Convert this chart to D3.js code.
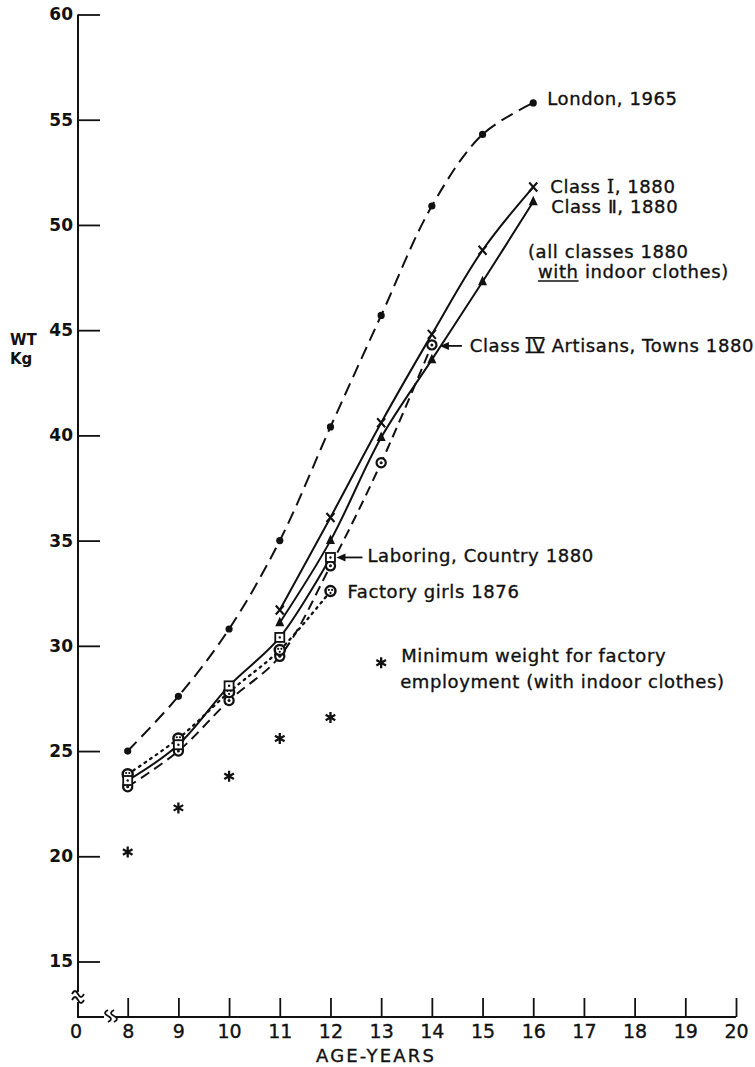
<!DOCTYPE html>
<html>
<head>
<meta charset="utf-8">
<script src="https://cdn.jsdelivr.net/npm/d3@7"></script>
<style>
  body { margin: 0; background: #fff; }
  svg text { font-family: "DejaVu Sans", sans-serif; fill: #111; }
  .heavy { stroke: #111; stroke-width: 0.35px; }
</style>
</head>
<body>
<svg id="chart" width="755" height="1067"></svg>
<script>
// Axis ticks
const ageTicks = [8, 9, 10, 11, 12, 13, 14, 15, 16, 17, 18, 19, 20];
const weightTicks = [15, 20, 25, 30, 35, 40, 45, 50, 55, 60];

// Girls' weight (kg) by age
const londonAges = [8, 9, 10, 11, 12, 13, 14, 15, 16];
const london1965 = [25.0, 27.6, 30.8, 35.0, 40.4, 45.7, 50.9, 54.3, 55.8];

const classAges = [11, 12, 13, 14, 15, 16];
const classI1880 = [31.7, 36.1, 40.6, 44.8, 48.8, 51.8];
const classII1880 = [31.1, 35.0, 39.9, 43.6, 47.3, 51.1];

const classIVAges = [8, 9, 10, 11, 12, 13, 14];
const classIV1880 = [23.3, 25.0, 27.4, 29.5, 33.8, 38.7, 44.3];

const laboringAges = [8, 9, 10, 11, 12];
const laboring1880 = [23.6, 25.3, 28.1, 30.4, 34.2];

const factoryAges = [8, 9, 10, 11, 12];
const factoryGirls1876 = [23.9, 25.6, 27.8, 29.8, 32.6];

const minimumAges = [8, 9, 10, 11, 12, 13];
const minimumWeight = [20.2, 22.3, 23.8, 25.6, 26.6, 29.2];

const svg = d3.select("#chart");
const x = d3.scaleLinear().domain([8, 20]).range([127.7, 736]);
const y = d3.scaleLinear().domain([15, 60]).range([961.5, 14.5]);
const axisX = 78;     // position of the weight axis (age 0)
const axisY = 1017;   // position of the age axis

const ink = "#111";

// ---- Axes -------------------------------------------------------------
const gy = svg.append("g").attr("transform", `translate(${axisX},0)`)
  .call(d3.axisLeft(y).tickValues(weightTicks).tickSize(-22).tickPadding(5));
gy.select(".domain").remove();
gy.selectAll(".tick line").attr("stroke", ink).attr("stroke-width", 1.8);
gy.selectAll(".tick text").attr("font-size", 17).attr("font-weight", "bold")
  .attr("fill", ink).style("font-family", "\"DejaVu Sans\", sans-serif");

const gx = svg.append("g").attr("transform", `translate(0,${axisY})`)
  .call(d3.axisBottom(x).tickValues(ageTicks).tickSize(-19).tickPadding(8));
gx.select(".domain").remove();
gx.selectAll(".tick line").attr("stroke", ink).attr("stroke-width", 1.8);
gx.selectAll(".tick text").attr("font-size", 19).attr("fill", ink).attr("class", "heavy")
  .style("font-family", "\"DejaVu Sans\", sans-serif");

// origin label
svg.append("text").attr("class", "heavy").attr("x", axisX - 2).attr("y", axisY + 21)
  .attr("text-anchor", "middle").attr("font-size", 19).text("0");

// axis lines with scale breaks
const axisPath = [
  `M${axisX},${y(60)}V992`,
  `M${axisX},1002V${axisY}H104`,
  `M116,${axisY}H736`
].join("");
svg.append("path").attr("d", axisPath).attr("fill", "none")
  .attr("stroke", ink).attr("stroke-width", 2);

const breaks = [
  `M${axisX - 6},994c2,-4 4,-4 6,0s4,4 6,0`,
  `M${axisX - 6},1000c2,-4 4,-4 6,0s4,4 6,0`,
  `M108,1010c-4,2 -4,4 0,6s4,4 0,6`,
  `M114,1010c-4,2 -4,4 0,6s4,4 0,6`
];
svg.append("path").attr("d", breaks.join("")).attr("fill", "none")
  .attr("stroke", ink).attr("stroke-width", 1.8);

// axis titles
svg.append("text").attr("x", 10).attr("y", 345).attr("font-size", 15)
  .attr("font-weight", "bold").text("WT");
svg.append("text").attr("x", 10).attr("y", 364).attr("font-size", 15)
  .attr("font-weight", "bold").text("Kg");
svg.append("text").attr("class", "heavy").attr("x", 376).attr("y", 1062).attr("text-anchor", "middle")
  .attr("font-size", 18).attr("letter-spacing", 2.2).text("AGE-YEARS");

// ---- Lines ------------------------------------------------------------
const line = d3.line()
  .x(d => x(d[0])).y(d => y(d[1]))
  .curve(d3.curveCatmullRom.alpha(0.5));
const pairs = (a, v) => a.map((t, i) => [t, v[i]]);

const lineSpecs = [
  { data: pairs(londonAges, london1965), dash: "13,7" },
  { data: pairs(classAges, classI1880), dash: null },
  { data: pairs(classAges, classII1880), dash: null },
  { data: pairs(classIVAges, classIV1880), dash: "10,6" },
  { data: pairs(laboringAges, laboring1880), dash: null },
  { data: pairs(factoryAges, factoryGirls1876), dash: "1.8,5" }
];
svg.append("g").selectAll("path").data(lineSpecs).join("path")
  .attr("d", d => line(d.data))
  .attr("fill", "none").attr("stroke", ink)
  .attr("stroke-width", d => d.dash === "1.8,5" ? 2.3 : 2)
  .attr("stroke-linecap", d => d.dash === "1.8,5" ? "round" : "butt")
  .attr("stroke-dasharray", d => d.dash);

// ---- Markers ----------------------------------------------------------
const mk = svg.append("g");

mk.selectAll(".lon").data(pairs(londonAges, london1965)).join("circle")
  .attr("cx", d => x(d[0])).attr("cy", d => y(d[1])).attr("r", 3.6).attr("fill", ink);

mk.selectAll(".c4").data(pairs(classIVAges, classIV1880)).join("g")
  .attr("transform", d => `translate(${x(d[0])},${y(d[1])})`)
  .each(function () {
    const g = d3.select(this);
    g.append("circle").attr("r", 4.6).attr("fill", "#fff").attr("stroke", ink).attr("stroke-width", 2.2);
    g.append("circle").attr("r", 1.5).attr("fill", ink);
  });

mk.selectAll(".fg").data(pairs(factoryAges, factoryGirls1876)).join("g")
  .attr("transform", d => `translate(${x(d[0])},${y(d[1])})`)
  .each(function () {
    const g = d3.select(this);
    g.append("circle").attr("r", 5).attr("fill", "#fff").attr("stroke", ink).attr("stroke-width", 2.5);
    [[-1.6, -1.2], [1.6, -1.2], [0, 1.8]].forEach(p =>
      g.append("circle").attr("cx", p[0]).attr("cy", p[1]).attr("r", 1.1).attr("fill", ink));
  });

mk.selectAll(".lab").data(pairs(laboringAges, laboring1880)).join("g")
  .attr("transform", d => `translate(${x(d[0])},${y(d[1])})`)
  .each(function () {
    const g = d3.select(this);
    g.append("rect").attr("x", -4.5).attr("y", -4.5).attr("width", 9).attr("height", 9)
      .attr("fill", "#fff").attr("stroke", ink).attr("stroke-width", 1.8);
    g.append("circle").attr("r", 1.2).attr("fill", ink);
  });

mk.selectAll(".c2").data(pairs(classAges, classII1880)).join("path")
  .attr("transform", d => `translate(${x(d[0])},${y(d[1])})`)
  .attr("d", "M0,-6L4.5,3.5L-4.5,3.5Z").attr("fill", ink);

mk.selectAll(".c1").data(pairs(classAges, classI1880)).join("path")
  .attr("transform", d => `translate(${x(d[0])},${y(d[1])})`)
  .attr("d", "M-4,-4.5L4,4.5M4,-4.5L-4,4.5").attr("stroke", ink).attr("stroke-width", 2.1);

const star = "M0,-5.5V5.5M-4.8,-2.75L4.8,2.75M-4.8,2.75L4.8,-2.75";
mk.selectAll(".min").data(pairs(minimumAges, minimumWeight)).join("path")
  .attr("transform", d => `translate(${x(d[0])},${y(d[1])})`)
  .attr("d", star).attr("stroke", ink).attr("stroke-width", 2.3);

// ---- Series labels ----------------------------------------------------
const lab = svg.append("g").attr("font-size", 18).attr("letter-spacing", 0.6).attr("class", "heavy");
const last = arr => arr[arr.length - 1];
const serif = "\"DejaVu Serif\", serif";

lab.append("text").attr("x", x(16) + 14).attr("y", y(last(london1965)) + 2).text("London, 1965");

const t1 = lab.append("text").attr("x", x(16) + 17).attr("y", y(last(classI1880)) + 6);
t1.append("tspan").text("Class ");
t1.append("tspan").style("font-family", serif).text("I");
t1.append("tspan").text(", 1880");

lab.append("text").attr("x", x(16) + 18).attr("y", y(last(classII1880)) + 11).text("Class Ⅱ, 1880");
lab.append("text").attr("x", 528).attr("y", 258).text("(all classes 1880");

const note = lab.append("text").attr("x", 538).attr("y", 278);
note.append("tspan").text("with");
note.append("tspan").text(" indoor clothes)");
const wLen = note.node().getSubStringLength(0, 4);
svg.append("line").attr("x1", 538).attr("x2", 538 + wLen)
  .attr("y1", 281).attr("y2", 281).attr("stroke", ink).attr("stroke-width", 1.6);

// Class IV label with arrow; the numeral carries bars above and below
const c4x = x(14), c4y = y(last(classIV1880));
const t4 = lab.append("text").attr("x", c4x + 38).attr("y", c4y + 7);
t4.append("tspan").text("Class ");
t4.append("tspan").text("IV");
t4.append("tspan").text("  Artisans, Towns 1880");
const pre = t4.node().getSubStringLength(0, 6);
const numW = t4.node().getSubStringLength(6, 2);
const nx0 = c4x + 38 + pre - 1, nx1 = nx0 + numW;
svg.append("path")
  .attr("d", `M${nx0},${c4y - 7}H${nx1}M${nx0},${c4y + 7.5}H${nx1}`)
  .attr("stroke", ink).attr("stroke-width", 1.8);
svg.append("line").attr("x1", c4x + 14).attr("x2", c4x + 30).attr("y1", c4y + 1).attr("y2", c4y + 1)
  .attr("stroke", ink).attr("stroke-width", 1.8);
svg.append("path").attr("d", `M${c4x + 8},${c4y + 1}l9,-4v8z`).attr("fill", ink);

// Laboring label with arrow
const lbx = x(12), lby = y(last(laboring1880));
lab.append("text").attr("x", lbx + 37).attr("y", lby + 5).text("Laboring, Country 1880");
svg.append("line").attr("x1", lbx + 12).attr("x2", lbx + 32).attr("y1", lby).attr("y2", lby)
  .attr("stroke", ink).attr("stroke-width", 1.8);
svg.append("path").attr("d", `M${lbx + 6},${lby}l9,-4v8z`).attr("fill", ink);

// Factory girls label
const fgx = x(12), fgy = y(last(factoryGirls1876));
lab.append("text").attr("x", fgx + 17).attr("y", fgy + 7).text("Factory girls 1876");

// Minimum weight label
const mnx = x(13), mny = y(last(minimumWeight));
lab.append("text").attr("x", mnx + 20).attr("y", mny - 1).text("Minimum weight for factory");
lab.append("text").attr("x", mnx + 19).attr("y", mny + 25).text("employment (with indoor clothes)");
</script>
</body>
</html>
